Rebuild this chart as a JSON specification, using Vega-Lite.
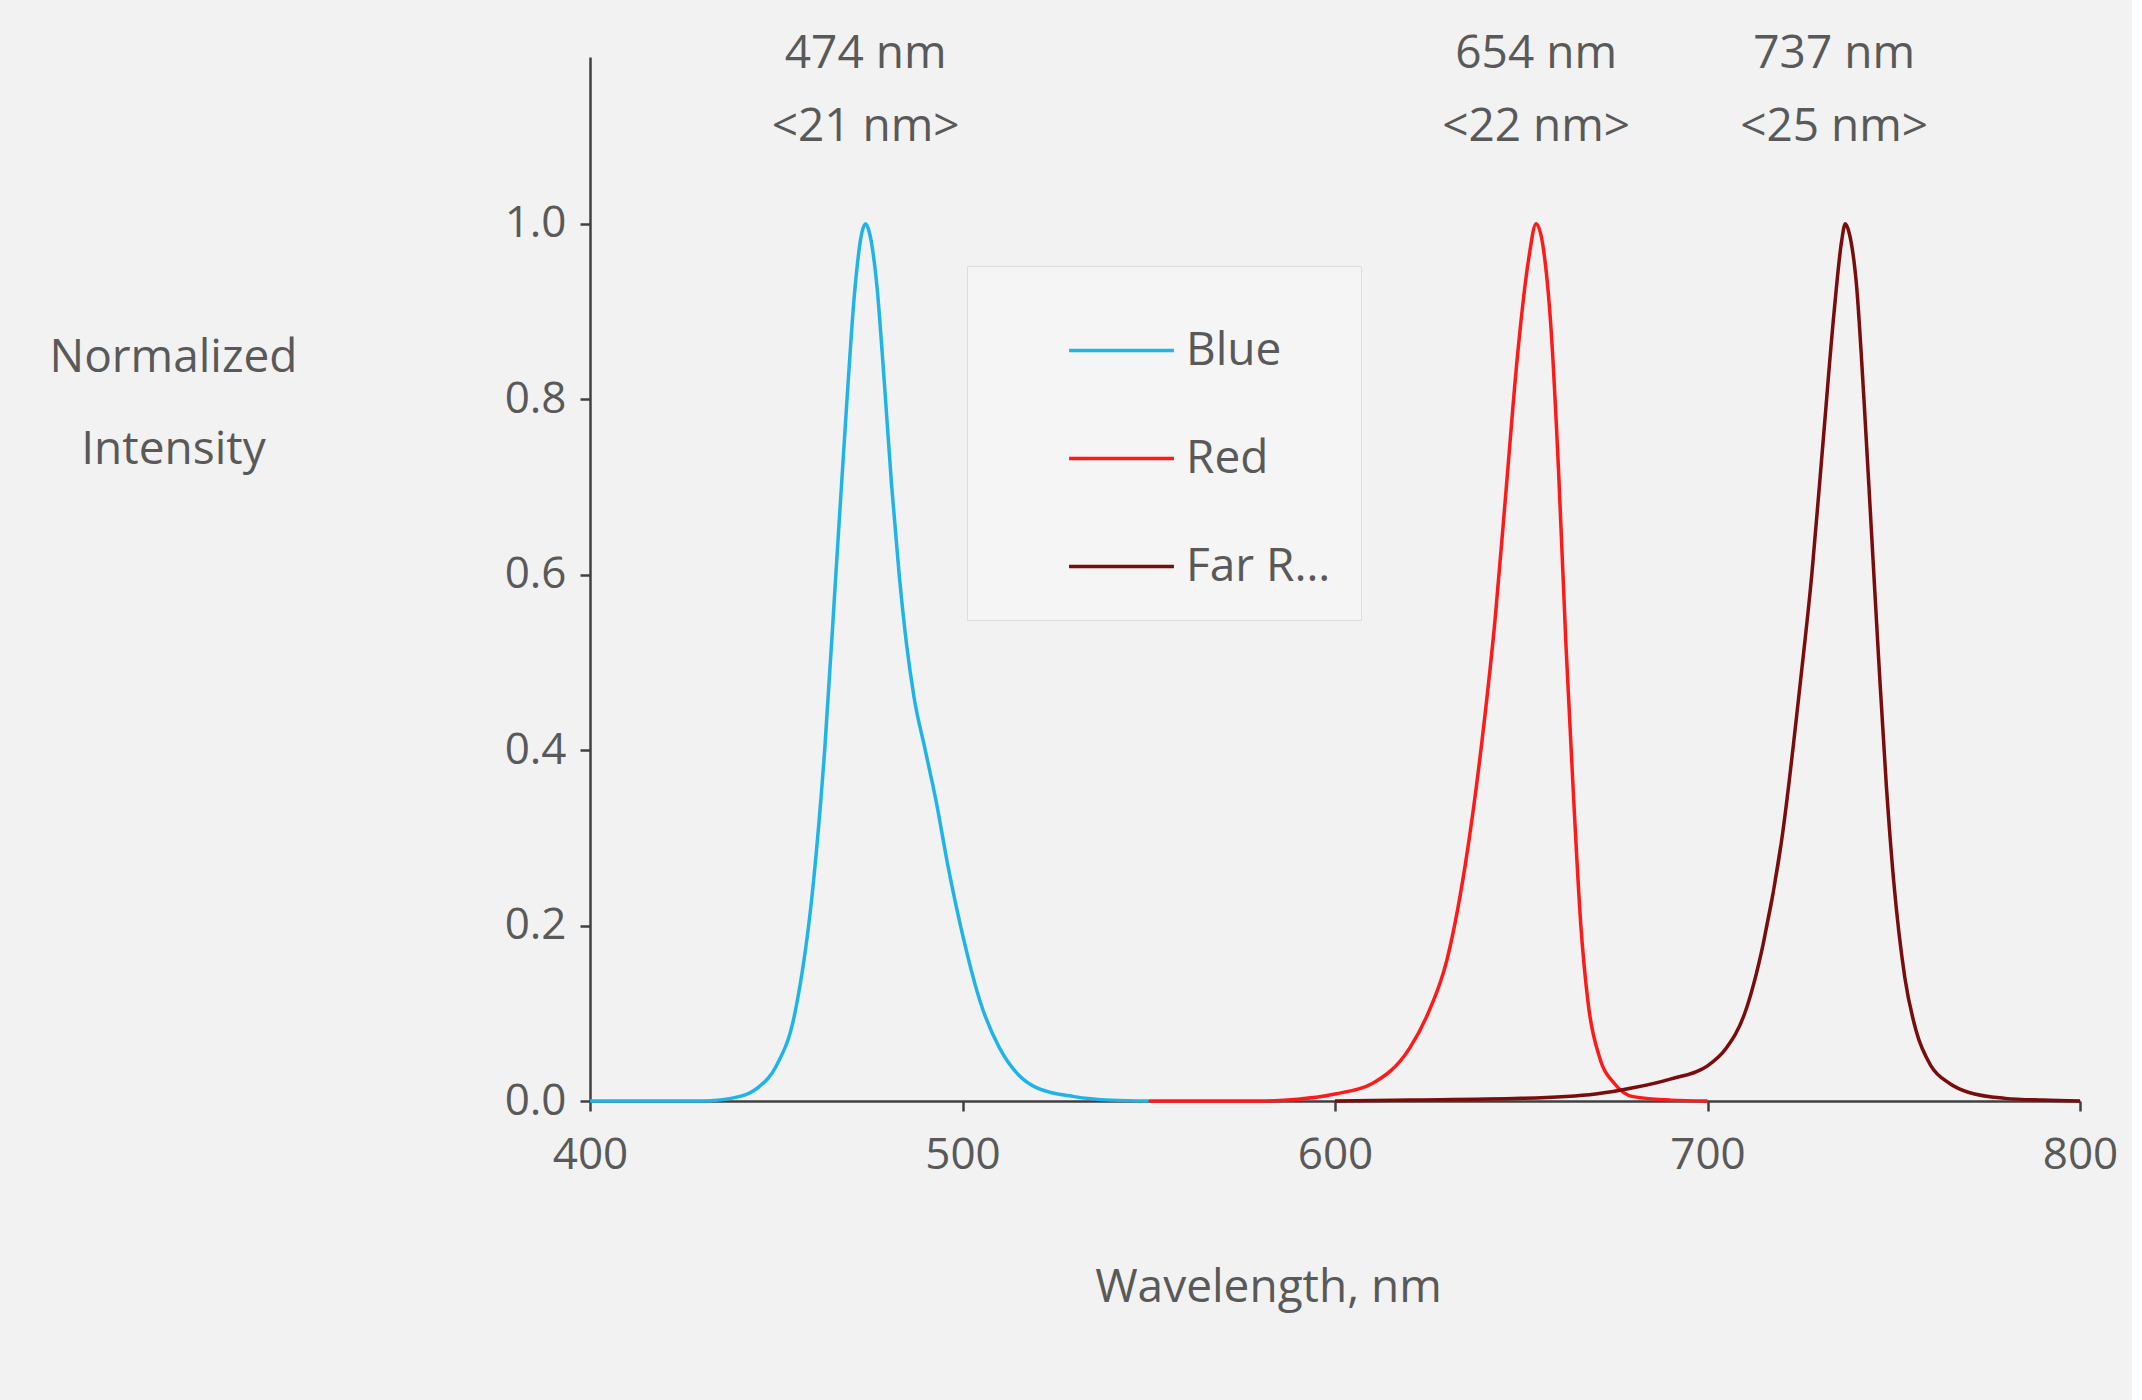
{
"$schema":"https://vega.github.io/schema/vega-lite/v6.json",
"autosize":"none","width":1490,"height":1044,
"padding":{"left":590,"top":57,"right":52,"bottom":299},
"background":"#f2f2f2",
"config":{"view":{"stroke":null},"font":"Open Sans","axis":{"labelFont":"Open Sans","titleFont":"Open Sans","labelColor":"#595959","titleColor":"#595959","labelFontSize":44,"titleFontSize":46,"titleFontWeight":"normal","grid":false,"domainColor":"#404040","tickColor":"#404040","domainWidth":2.5,"tickWidth":2.5,"tickSize":10,"labelFlush":false},"legend":{"labelFont":"Open Sans","labelFontSize":46,"labelColor":"#595959"}},
"layer":[
{"data":{"values":[
{"s":"Blue","x":400,"y":0},{"s":"Blue","x":430,"y":0},{"s":"Blue","x":440,"y":0.005},{"s":"Blue","x":445,"y":0.015},{"s":"Blue","x":450,"y":0.04},{"s":"Blue","x":455,"y":0.1},{"s":"Blue","x":460,"y":0.25},{"s":"Blue","x":463,"y":0.4},{"s":"Blue","x":466,"y":0.6},{"s":"Blue","x":469,"y":0.8},{"s":"Blue","x":471,"y":0.92},{"s":"Blue","x":473,"y":0.99},{"s":"Blue","x":474,"y":1.0},{"s":"Blue","x":475,"y":0.99},{"s":"Blue","x":477,"y":0.93},{"s":"Blue","x":479,"y":0.82},{"s":"Blue","x":481,"y":0.7},{"s":"Blue","x":483,"y":0.6},{"s":"Blue","x":485,"y":0.52},{"s":"Blue","x":487,"y":0.46},{"s":"Blue","x":490,"y":0.4},{"s":"Blue","x":493,"y":0.34},{"s":"Blue","x":496,"y":0.27},{"s":"Blue","x":500,"y":0.19},{"s":"Blue","x":505,"y":0.11},{"s":"Blue","x":510,"y":0.06},{"s":"Blue","x":515,"y":0.03},{"s":"Blue","x":520,"y":0.015},{"s":"Blue","x":530,"y":0.005},{"s":"Blue","x":540,"y":0.001},{"s":"Blue","x":550,"y":0},
{"s":"Red","x":550,"y":0},{"s":"Red","x":580,"y":0},{"s":"Red","x":590,"y":0.002},{"s":"Red","x":600,"y":0.008},{"s":"Red","x":610,"y":0.02},{"s":"Red","x":620,"y":0.06},{"s":"Red","x":625,"y":0.1},{"s":"Red","x":630,"y":0.16},{"s":"Red","x":635,"y":0.27},{"s":"Red","x":640,"y":0.43},{"s":"Red","x":643,"y":0.55},{"s":"Red","x":646,"y":0.7},{"s":"Red","x":649,"y":0.85},{"s":"Red","x":652,"y":0.96},{"s":"Red","x":654,"y":1.0},{"s":"Red","x":656,"y":0.97},{"s":"Red","x":658,"y":0.88},{"s":"Red","x":660,"y":0.72},{"s":"Red","x":662,"y":0.52},{"s":"Red","x":664,"y":0.35},{"s":"Red","x":666,"y":0.2},{"s":"Red","x":668,"y":0.11},{"s":"Red","x":671,"y":0.05},{"s":"Red","x":675,"y":0.02},{"s":"Red","x":680,"y":0.005},{"s":"Red","x":690,"y":0.001},{"s":"Red","x":700,"y":0},
{"s":"Far Red","x":600,"y":0},{"s":"Far Red","x":620,"y":0.001},{"s":"Far Red","x":650,"y":0.003},{"s":"Far Red","x":670,"y":0.008},{"s":"Far Red","x":680,"y":0.015},{"s":"Far Red","x":690,"y":0.025},{"s":"Far Red","x":700,"y":0.04},{"s":"Far Red","x":705,"y":0.06},{"s":"Far Red","x":710,"y":0.1},{"s":"Far Red","x":715,"y":0.18},{"s":"Far Red","x":720,"y":0.3},{"s":"Far Red","x":725,"y":0.48},{"s":"Far Red","x":728,"y":0.6},{"s":"Far Red","x":731,"y":0.75},{"s":"Far Red","x":734,"y":0.9},{"s":"Far Red","x":736,"y":0.98},{"s":"Far Red","x":737,"y":1.0},{"s":"Far Red","x":738,"y":0.99},{"s":"Far Red","x":740,"y":0.93},{"s":"Far Red","x":742,"y":0.8},{"s":"Far Red","x":744,"y":0.65},{"s":"Far Red","x":746,"y":0.5},{"s":"Far Red","x":748,"y":0.36},{"s":"Far Red","x":750,"y":0.25},{"s":"Far Red","x":753,"y":0.14},{"s":"Far Red","x":756,"y":0.08},{"s":"Far Red","x":760,"y":0.04},{"s":"Far Red","x":765,"y":0.02},{"s":"Far Red","x":770,"y":0.01},{"s":"Far Red","x":780,"y":0.003},{"s":"Far Red","x":790,"y":0.001},{"s":"Far Red","x":800,"y":0}
]},
"mark":{"type":"line","strokeWidth":3.5,"interpolate":"monotone"},
"encoding":{
"x":{"field":"x","type":"quantitative","scale":{"domain":[400,800],"nice":false},"axis":{"values":[400,500,600,700,800],"title":"Wavelength, nm","titleX":678,"titleY":186,"titleBaseline":"middle","labelPadding":22}},
"y":{"field":"y","type":"quantitative","scale":{"domain":[0,1.19],"nice":false},"axis":{"values":[0,0.2,0.4,0.6,0.8,1.0],"format":".1f","title":["Normalized","Intensity"],"titleAngle":0,"titleX":-417,"titleY":300,"titleAlign":"center","titleBaseline":"middle","titleLineHeight":92,"labelPadding":14}},
"color":{"field":"s","type":"nominal","scale":{"domain":["Blue","Red","Far Red"],"range":["#1fb4e8","#ff1a1a","#7a0c0c"]},"legend":{"title":null,"orient":"none","legendX":377,"legendY":209,"fillColor":"#f5f5f5","strokeColor":"#dddddd","padding":30,"symbolOffset":70,"symbolType":"stroke","symbolSize":11000,"symbolStrokeWidth":3.5,"rowPadding":30,"labelOffset":10}},
"order":{"field":"x"}
}},
{"data":{"values":[
{"x":474,"y":1.193,"t":"474 nm"},{"x":474,"y":1.11,"t":"<21 nm>"},
{"x":654,"y":1.193,"t":"654 nm"},{"x":654,"y":1.11,"t":"<22 nm>"},
{"x":734,"y":1.193,"t":"737 nm"},{"x":734,"y":1.11,"t":"<25 nm>"}
]},
"mark":{"type":"text","fontSize":46,"color":"#595959","baseline":"middle"},
"encoding":{"x":{"field":"x","type":"quantitative"},"y":{"field":"y","type":"quantitative"},"text":{"field":"t"}}}
]
}
